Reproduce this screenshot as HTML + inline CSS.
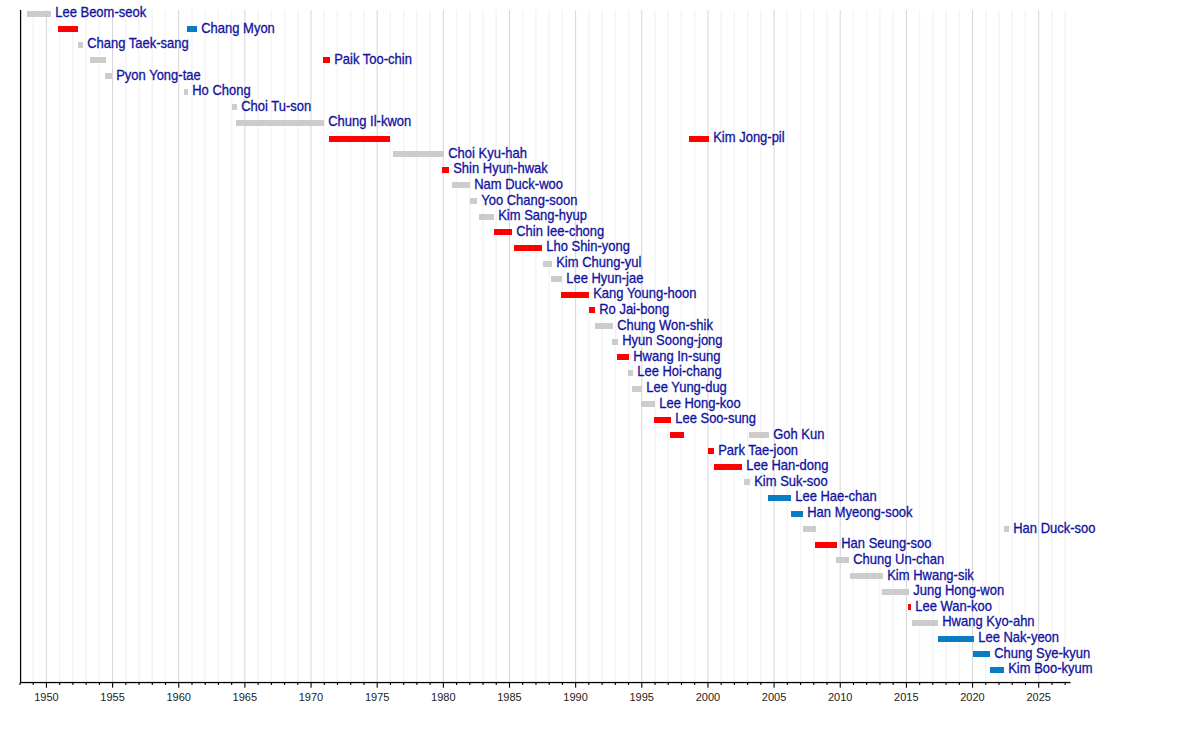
<!DOCTYPE html><html><head><meta charset="utf-8"><style>html,body{margin:0;padding:0;background:#fff;width:1200px;height:732px;overflow:hidden}svg{display:block}text{font-family:"Liberation Sans",sans-serif}</style></head><body>
<svg width="1200" height="732" viewBox="0 0 1200 732">
<rect width="1200" height="732" fill="#fff"/>
<rect x="19.19" y="10" width="1.5" height="672.5" fill="#f4f4f4"/>
<rect x="32.42" y="10" width="1.5" height="672.5" fill="#f4f4f4"/>
<rect x="45.90" y="10" width="1" height="672.5" fill="#d6d6d6"/>
<rect x="58.88" y="10" width="1.5" height="672.5" fill="#f4f4f4"/>
<rect x="72.11" y="10" width="1.5" height="672.5" fill="#f4f4f4"/>
<rect x="85.34" y="10" width="1.5" height="672.5" fill="#f4f4f4"/>
<rect x="98.57" y="10" width="1.5" height="672.5" fill="#f4f4f4"/>
<rect x="112.05" y="10" width="1" height="672.5" fill="#d6d6d6"/>
<rect x="125.03" y="10" width="1.5" height="672.5" fill="#f4f4f4"/>
<rect x="138.26" y="10" width="1.5" height="672.5" fill="#f4f4f4"/>
<rect x="151.49" y="10" width="1.5" height="672.5" fill="#f4f4f4"/>
<rect x="164.72" y="10" width="1.5" height="672.5" fill="#f4f4f4"/>
<rect x="178.20" y="10" width="1" height="672.5" fill="#d6d6d6"/>
<rect x="191.18" y="10" width="1.5" height="672.5" fill="#f4f4f4"/>
<rect x="204.41" y="10" width="1.5" height="672.5" fill="#f4f4f4"/>
<rect x="217.64" y="10" width="1.5" height="672.5" fill="#f4f4f4"/>
<rect x="230.87" y="10" width="1.5" height="672.5" fill="#f4f4f4"/>
<rect x="244.35" y="10" width="1" height="672.5" fill="#d6d6d6"/>
<rect x="257.33" y="10" width="1.5" height="672.5" fill="#f4f4f4"/>
<rect x="270.56" y="10" width="1.5" height="672.5" fill="#f4f4f4"/>
<rect x="283.79" y="10" width="1.5" height="672.5" fill="#f4f4f4"/>
<rect x="297.02" y="10" width="1.5" height="672.5" fill="#f4f4f4"/>
<rect x="310.50" y="10" width="1" height="672.5" fill="#d6d6d6"/>
<rect x="323.48" y="10" width="1.5" height="672.5" fill="#f4f4f4"/>
<rect x="336.71" y="10" width="1.5" height="672.5" fill="#f4f4f4"/>
<rect x="349.94" y="10" width="1.5" height="672.5" fill="#f4f4f4"/>
<rect x="363.17" y="10" width="1.5" height="672.5" fill="#f4f4f4"/>
<rect x="376.65" y="10" width="1" height="672.5" fill="#d6d6d6"/>
<rect x="389.63" y="10" width="1.5" height="672.5" fill="#f4f4f4"/>
<rect x="402.86" y="10" width="1.5" height="672.5" fill="#f4f4f4"/>
<rect x="416.09" y="10" width="1.5" height="672.5" fill="#f4f4f4"/>
<rect x="429.32" y="10" width="1.5" height="672.5" fill="#f4f4f4"/>
<rect x="442.80" y="10" width="1" height="672.5" fill="#d6d6d6"/>
<rect x="455.78" y="10" width="1.5" height="672.5" fill="#f4f4f4"/>
<rect x="469.01" y="10" width="1.5" height="672.5" fill="#f4f4f4"/>
<rect x="482.24" y="10" width="1.5" height="672.5" fill="#f4f4f4"/>
<rect x="495.47" y="10" width="1.5" height="672.5" fill="#f4f4f4"/>
<rect x="508.95" y="10" width="1" height="672.5" fill="#d6d6d6"/>
<rect x="521.93" y="10" width="1.5" height="672.5" fill="#f4f4f4"/>
<rect x="535.16" y="10" width="1.5" height="672.5" fill="#f4f4f4"/>
<rect x="548.39" y="10" width="1.5" height="672.5" fill="#f4f4f4"/>
<rect x="561.62" y="10" width="1.5" height="672.5" fill="#f4f4f4"/>
<rect x="575.10" y="10" width="1" height="672.5" fill="#d6d6d6"/>
<rect x="588.08" y="10" width="1.5" height="672.5" fill="#f4f4f4"/>
<rect x="601.31" y="10" width="1.5" height="672.5" fill="#f4f4f4"/>
<rect x="614.54" y="10" width="1.5" height="672.5" fill="#f4f4f4"/>
<rect x="627.77" y="10" width="1.5" height="672.5" fill="#f4f4f4"/>
<rect x="641.25" y="10" width="1" height="672.5" fill="#d6d6d6"/>
<rect x="654.23" y="10" width="1.5" height="672.5" fill="#f4f4f4"/>
<rect x="667.46" y="10" width="1.5" height="672.5" fill="#f4f4f4"/>
<rect x="680.69" y="10" width="1.5" height="672.5" fill="#f4f4f4"/>
<rect x="693.92" y="10" width="1.5" height="672.5" fill="#f4f4f4"/>
<rect x="707.40" y="10" width="1" height="672.5" fill="#d6d6d6"/>
<rect x="720.38" y="10" width="1.5" height="672.5" fill="#f4f4f4"/>
<rect x="733.61" y="10" width="1.5" height="672.5" fill="#f4f4f4"/>
<rect x="746.84" y="10" width="1.5" height="672.5" fill="#f4f4f4"/>
<rect x="760.07" y="10" width="1.5" height="672.5" fill="#f4f4f4"/>
<rect x="773.55" y="10" width="1" height="672.5" fill="#d6d6d6"/>
<rect x="786.53" y="10" width="1.5" height="672.5" fill="#f4f4f4"/>
<rect x="799.76" y="10" width="1.5" height="672.5" fill="#f4f4f4"/>
<rect x="812.99" y="10" width="1.5" height="672.5" fill="#f4f4f4"/>
<rect x="826.22" y="10" width="1.5" height="672.5" fill="#f4f4f4"/>
<rect x="839.70" y="10" width="1" height="672.5" fill="#d6d6d6"/>
<rect x="852.68" y="10" width="1.5" height="672.5" fill="#f4f4f4"/>
<rect x="865.91" y="10" width="1.5" height="672.5" fill="#f4f4f4"/>
<rect x="879.14" y="10" width="1.5" height="672.5" fill="#f4f4f4"/>
<rect x="892.37" y="10" width="1.5" height="672.5" fill="#f4f4f4"/>
<rect x="905.85" y="10" width="1" height="672.5" fill="#d6d6d6"/>
<rect x="918.83" y="10" width="1.5" height="672.5" fill="#f4f4f4"/>
<rect x="932.06" y="10" width="1.5" height="672.5" fill="#f4f4f4"/>
<rect x="945.29" y="10" width="1.5" height="672.5" fill="#f4f4f4"/>
<rect x="958.52" y="10" width="1.5" height="672.5" fill="#f4f4f4"/>
<rect x="972.00" y="10" width="1" height="672.5" fill="#d6d6d6"/>
<rect x="984.98" y="10" width="1.5" height="672.5" fill="#f4f4f4"/>
<rect x="998.21" y="10" width="1.5" height="672.5" fill="#f4f4f4"/>
<rect x="1011.44" y="10" width="1.5" height="672.5" fill="#f4f4f4"/>
<rect x="1024.67" y="10" width="1.5" height="672.5" fill="#f4f4f4"/>
<rect x="1038.15" y="10" width="1" height="672.5" fill="#d6d6d6"/>
<rect x="1051.13" y="10" width="1.5" height="672.5" fill="#f4f4f4"/>
<rect x="1064.36" y="10" width="1.5" height="672.5" fill="#f4f4f4"/>
<rect x="27" y="11" width="24" height="6" fill="#cccccc"/>
<text transform="translate(55.20,17) scale(0.942,1)" font-size="13.8" fill="#1212a0" stroke="#1212a0" stroke-width="0.3">Lee Beom-seok</text>
<rect x="58" y="26" width="20" height="6" fill="#ff0000"/>
<rect x="187" y="26" width="10" height="6" fill="#0a7cc4"/>
<text transform="translate(201.20,33) scale(0.942,1)" font-size="13.8" fill="#1212a0" stroke="#1212a0" stroke-width="0.3">Chang Myon</text>
<rect x="78" y="42" width="5" height="6" fill="#cccccc"/>
<text transform="translate(87.20,48) scale(0.942,1)" font-size="13.8" fill="#1212a0" stroke="#1212a0" stroke-width="0.3">Chang Taek-sang</text>
<rect x="90" y="57" width="16" height="6" fill="#cccccc"/>
<rect x="323" y="57" width="7" height="6" fill="#ff0000"/>
<text transform="translate(334.20,64) scale(0.942,1)" font-size="13.8" fill="#1212a0" stroke="#1212a0" stroke-width="0.3">Paik Too-chin</text>
<rect x="105" y="73" width="7" height="6" fill="#cccccc"/>
<text transform="translate(116.20,80) scale(0.942,1)" font-size="13.8" fill="#1212a0" stroke="#1212a0" stroke-width="0.3">Pyon Yong-tae</text>
<rect x="184" y="89" width="4" height="6" fill="#cccccc"/>
<text transform="translate(192.20,95) scale(0.942,1)" font-size="13.8" fill="#1212a0" stroke="#1212a0" stroke-width="0.3">Ho Chong</text>
<rect x="232" y="104" width="5" height="6" fill="#cccccc"/>
<text transform="translate(241.20,111) scale(0.942,1)" font-size="13.8" fill="#1212a0" stroke="#1212a0" stroke-width="0.3">Choi Tu-son</text>
<rect x="236" y="120" width="88" height="6" fill="#cccccc"/>
<text transform="translate(328.20,126) scale(0.942,1)" font-size="13.8" fill="#1212a0" stroke="#1212a0" stroke-width="0.3">Chung Il-kwon</text>
<rect x="329" y="136" width="61" height="6" fill="#ff0000"/>
<rect x="689" y="136" width="20" height="6" fill="#ff0000"/>
<text transform="translate(713.20,142) scale(0.942,1)" font-size="13.8" fill="#1212a0" stroke="#1212a0" stroke-width="0.3">Kim Jong-pil</text>
<rect x="393" y="151" width="51" height="6" fill="#cccccc"/>
<text transform="translate(448.20,158) scale(0.942,1)" font-size="13.8" fill="#1212a0" stroke="#1212a0" stroke-width="0.3">Choi Kyu-hah</text>
<rect x="442" y="167" width="7" height="6" fill="#ff0000"/>
<text transform="translate(453.20,173) scale(0.942,1)" font-size="13.8" fill="#1212a0" stroke="#1212a0" stroke-width="0.3">Shin Hyun-hwak</text>
<rect x="452" y="182" width="18" height="6" fill="#cccccc"/>
<text transform="translate(474.20,189) scale(0.942,1)" font-size="13.8" fill="#1212a0" stroke="#1212a0" stroke-width="0.3">Nam Duck-woo</text>
<rect x="470" y="198" width="7" height="6" fill="#cccccc"/>
<text transform="translate(481.20,205) scale(0.942,1)" font-size="13.8" fill="#1212a0" stroke="#1212a0" stroke-width="0.3">Yoo Chang-soon</text>
<rect x="479" y="214" width="15" height="6" fill="#cccccc"/>
<text transform="translate(498.20,220) scale(0.942,1)" font-size="13.8" fill="#1212a0" stroke="#1212a0" stroke-width="0.3">Kim Sang-hyup</text>
<rect x="494" y="229" width="18" height="6" fill="#ff0000"/>
<text transform="translate(516.20,236) scale(0.942,1)" font-size="13.8" fill="#1212a0" stroke="#1212a0" stroke-width="0.3">Chin Iee-chong</text>
<rect x="514" y="245" width="28" height="6" fill="#ff0000"/>
<text transform="translate(546.20,251) scale(0.942,1)" font-size="13.8" fill="#1212a0" stroke="#1212a0" stroke-width="0.3">Lho Shin-yong</text>
<rect x="543" y="261" width="9" height="6" fill="#cccccc"/>
<text transform="translate(556.20,267) scale(0.942,1)" font-size="13.8" fill="#1212a0" stroke="#1212a0" stroke-width="0.3">Kim Chung-yul</text>
<rect x="551" y="276" width="11" height="6" fill="#cccccc"/>
<text transform="translate(566.20,283) scale(0.942,1)" font-size="13.8" fill="#1212a0" stroke="#1212a0" stroke-width="0.3">Lee Hyun-jae</text>
<rect x="561" y="292" width="28" height="6" fill="#ff0000"/>
<text transform="translate(593.20,298) scale(0.942,1)" font-size="13.8" fill="#1212a0" stroke="#1212a0" stroke-width="0.3">Kang Young-hoon</text>
<rect x="589" y="307" width="6" height="6" fill="#ff0000"/>
<text transform="translate(599.20,314) scale(0.942,1)" font-size="13.8" fill="#1212a0" stroke="#1212a0" stroke-width="0.3">Ro Jai-bong</text>
<rect x="595" y="323" width="18" height="6" fill="#cccccc"/>
<text transform="translate(617.20,330) scale(0.942,1)" font-size="13.8" fill="#1212a0" stroke="#1212a0" stroke-width="0.3">Chung Won-shik</text>
<rect x="612" y="339" width="6" height="6" fill="#cccccc"/>
<text transform="translate(622.20,345) scale(0.942,1)" font-size="13.8" fill="#1212a0" stroke="#1212a0" stroke-width="0.3">Hyun Soong-jong</text>
<rect x="617" y="354" width="12" height="6" fill="#ff0000"/>
<text transform="translate(633.20,361) scale(0.942,1)" font-size="13.8" fill="#1212a0" stroke="#1212a0" stroke-width="0.3">Hwang In-sung</text>
<rect x="628" y="370" width="5" height="6" fill="#cccccc"/>
<text transform="translate(637.20,376) scale(0.942,1)" font-size="13.8" fill="#1212a0" stroke="#1212a0" stroke-width="0.3">Lee Hoi-chang</text>
<rect x="632" y="386" width="10" height="6" fill="#cccccc"/>
<text transform="translate(646.20,392) scale(0.942,1)" font-size="13.8" fill="#1212a0" stroke="#1212a0" stroke-width="0.3">Lee Yung-dug</text>
<rect x="641" y="401" width="14" height="6" fill="#cccccc"/>
<text transform="translate(659.20,408) scale(0.942,1)" font-size="13.8" fill="#1212a0" stroke="#1212a0" stroke-width="0.3">Lee Hong-koo</text>
<rect x="654" y="417" width="17" height="6" fill="#ff0000"/>
<text transform="translate(675.20,423) scale(0.942,1)" font-size="13.8" fill="#1212a0" stroke="#1212a0" stroke-width="0.3">Lee Soo-sung</text>
<rect x="670" y="432" width="14" height="6" fill="#ff0000"/>
<rect x="749" y="432" width="20" height="6" fill="#cccccc"/>
<text transform="translate(773.20,439) scale(0.942,1)" font-size="13.8" fill="#1212a0" stroke="#1212a0" stroke-width="0.3">Goh Kun</text>
<rect x="708" y="448" width="6" height="6" fill="#ff0000"/>
<text transform="translate(718.20,455) scale(0.942,1)" font-size="13.8" fill="#1212a0" stroke="#1212a0" stroke-width="0.3">Park Tae-joon</text>
<rect x="714" y="464" width="28" height="6" fill="#ff0000"/>
<text transform="translate(746.20,470) scale(0.942,1)" font-size="13.8" fill="#1212a0" stroke="#1212a0" stroke-width="0.3">Lee Han-dong</text>
<rect x="744" y="479" width="6" height="6" fill="#cccccc"/>
<text transform="translate(754.20,486) scale(0.942,1)" font-size="13.8" fill="#1212a0" stroke="#1212a0" stroke-width="0.3">Kim Suk-soo</text>
<rect x="768" y="495" width="23" height="6" fill="#0a7cc4"/>
<text transform="translate(795.20,501) scale(0.942,1)" font-size="13.8" fill="#1212a0" stroke="#1212a0" stroke-width="0.3">Lee Hae-chan</text>
<rect x="791" y="511" width="12" height="6" fill="#0a7cc4"/>
<text transform="translate(807.20,517) scale(0.942,1)" font-size="13.8" fill="#1212a0" stroke="#1212a0" stroke-width="0.3">Han Myeong-sook</text>
<rect x="803" y="526" width="13" height="6" fill="#cccccc"/>
<rect x="1004" y="526" width="5" height="6" fill="#cccccc"/>
<text transform="translate(1013.20,533) scale(0.942,1)" font-size="13.8" fill="#1212a0" stroke="#1212a0" stroke-width="0.3">Han Duck-soo</text>
<rect x="815" y="542" width="22" height="6" fill="#ff0000"/>
<text transform="translate(841.20,548) scale(0.942,1)" font-size="13.8" fill="#1212a0" stroke="#1212a0" stroke-width="0.3">Han Seung-soo</text>
<rect x="836" y="557" width="13" height="6" fill="#cccccc"/>
<text transform="translate(853.20,564) scale(0.942,1)" font-size="13.8" fill="#1212a0" stroke="#1212a0" stroke-width="0.3">Chung Un-chan</text>
<rect x="850" y="573" width="33" height="6" fill="#cccccc"/>
<text transform="translate(887.20,580) scale(0.942,1)" font-size="13.8" fill="#1212a0" stroke="#1212a0" stroke-width="0.3">Kim Hwang-sik</text>
<rect x="882" y="589" width="27" height="6" fill="#cccccc"/>
<text transform="translate(913.20,595) scale(0.942,1)" font-size="13.8" fill="#1212a0" stroke="#1212a0" stroke-width="0.3">Jung Hong-won</text>
<rect x="908" y="604" width="3" height="6" fill="#ff0000"/>
<text transform="translate(915.20,611) scale(0.942,1)" font-size="13.8" fill="#1212a0" stroke="#1212a0" stroke-width="0.3">Lee Wan-koo</text>
<rect x="912" y="620" width="26" height="6" fill="#cccccc"/>
<text transform="translate(942.20,626) scale(0.942,1)" font-size="13.8" fill="#1212a0" stroke="#1212a0" stroke-width="0.3">Hwang Kyo-ahn</text>
<rect x="938" y="636" width="36" height="6" fill="#0a7cc4"/>
<text transform="translate(978.20,642) scale(0.942,1)" font-size="13.8" fill="#1212a0" stroke="#1212a0" stroke-width="0.3">Lee Nak-yeon</text>
<rect x="973" y="651" width="17" height="6" fill="#0a7cc4"/>
<text transform="translate(994.20,658) scale(0.942,1)" font-size="13.8" fill="#1212a0" stroke="#1212a0" stroke-width="0.3">Chung Sye-kyun</text>
<rect x="990" y="667" width="14" height="6" fill="#0a7cc4"/>
<text transform="translate(1008.20,673) scale(0.942,1)" font-size="13.8" fill="#1212a0" stroke="#1212a0" stroke-width="0.3">Kim Boo-kyum</text>
<rect x="20.0" y="10" width="1.2" height="673.1" fill="#000"/>
<rect x="20.0" y="681.9" width="1050.5" height="1.3" fill="#000"/>
<rect x="19.44" y="682.5" width="1.1" height="2.5" fill="#000"/>
<rect x="32.67" y="682.5" width="1.1" height="2.5" fill="#000"/>
<rect x="45.90" y="682.5" width="1.1" height="5.2" fill="#000"/>
<text x="46.40" y="701" font-size="11" fill="#222" text-anchor="middle">1950</text>
<rect x="59.13" y="682.5" width="1.1" height="2.5" fill="#000"/>
<rect x="72.36" y="682.5" width="1.1" height="2.5" fill="#000"/>
<rect x="85.59" y="682.5" width="1.1" height="2.5" fill="#000"/>
<rect x="98.82" y="682.5" width="1.1" height="2.5" fill="#000"/>
<rect x="112.05" y="682.5" width="1.1" height="5.2" fill="#000"/>
<text x="112.55" y="701" font-size="11" fill="#222" text-anchor="middle">1955</text>
<rect x="125.28" y="682.5" width="1.1" height="2.5" fill="#000"/>
<rect x="138.51" y="682.5" width="1.1" height="2.5" fill="#000"/>
<rect x="151.74" y="682.5" width="1.1" height="2.5" fill="#000"/>
<rect x="164.97" y="682.5" width="1.1" height="2.5" fill="#000"/>
<rect x="178.20" y="682.5" width="1.1" height="5.2" fill="#000"/>
<text x="178.70" y="701" font-size="11" fill="#222" text-anchor="middle">1960</text>
<rect x="191.43" y="682.5" width="1.1" height="2.5" fill="#000"/>
<rect x="204.66" y="682.5" width="1.1" height="2.5" fill="#000"/>
<rect x="217.89" y="682.5" width="1.1" height="2.5" fill="#000"/>
<rect x="231.12" y="682.5" width="1.1" height="2.5" fill="#000"/>
<rect x="244.35" y="682.5" width="1.1" height="5.2" fill="#000"/>
<text x="244.85" y="701" font-size="11" fill="#222" text-anchor="middle">1965</text>
<rect x="257.58" y="682.5" width="1.1" height="2.5" fill="#000"/>
<rect x="270.81" y="682.5" width="1.1" height="2.5" fill="#000"/>
<rect x="284.04" y="682.5" width="1.1" height="2.5" fill="#000"/>
<rect x="297.27" y="682.5" width="1.1" height="2.5" fill="#000"/>
<rect x="310.50" y="682.5" width="1.1" height="5.2" fill="#000"/>
<text x="311.00" y="701" font-size="11" fill="#222" text-anchor="middle">1970</text>
<rect x="323.73" y="682.5" width="1.1" height="2.5" fill="#000"/>
<rect x="336.96" y="682.5" width="1.1" height="2.5" fill="#000"/>
<rect x="350.19" y="682.5" width="1.1" height="2.5" fill="#000"/>
<rect x="363.42" y="682.5" width="1.1" height="2.5" fill="#000"/>
<rect x="376.65" y="682.5" width="1.1" height="5.2" fill="#000"/>
<text x="377.15" y="701" font-size="11" fill="#222" text-anchor="middle">1975</text>
<rect x="389.88" y="682.5" width="1.1" height="2.5" fill="#000"/>
<rect x="403.11" y="682.5" width="1.1" height="2.5" fill="#000"/>
<rect x="416.34" y="682.5" width="1.1" height="2.5" fill="#000"/>
<rect x="429.57" y="682.5" width="1.1" height="2.5" fill="#000"/>
<rect x="442.80" y="682.5" width="1.1" height="5.2" fill="#000"/>
<text x="443.30" y="701" font-size="11" fill="#222" text-anchor="middle">1980</text>
<rect x="456.03" y="682.5" width="1.1" height="2.5" fill="#000"/>
<rect x="469.26" y="682.5" width="1.1" height="2.5" fill="#000"/>
<rect x="482.49" y="682.5" width="1.1" height="2.5" fill="#000"/>
<rect x="495.72" y="682.5" width="1.1" height="2.5" fill="#000"/>
<rect x="508.95" y="682.5" width="1.1" height="5.2" fill="#000"/>
<text x="509.45" y="701" font-size="11" fill="#222" text-anchor="middle">1985</text>
<rect x="522.18" y="682.5" width="1.1" height="2.5" fill="#000"/>
<rect x="535.41" y="682.5" width="1.1" height="2.5" fill="#000"/>
<rect x="548.64" y="682.5" width="1.1" height="2.5" fill="#000"/>
<rect x="561.87" y="682.5" width="1.1" height="2.5" fill="#000"/>
<rect x="575.10" y="682.5" width="1.1" height="5.2" fill="#000"/>
<text x="575.60" y="701" font-size="11" fill="#222" text-anchor="middle">1990</text>
<rect x="588.33" y="682.5" width="1.1" height="2.5" fill="#000"/>
<rect x="601.56" y="682.5" width="1.1" height="2.5" fill="#000"/>
<rect x="614.79" y="682.5" width="1.1" height="2.5" fill="#000"/>
<rect x="628.02" y="682.5" width="1.1" height="2.5" fill="#000"/>
<rect x="641.25" y="682.5" width="1.1" height="5.2" fill="#000"/>
<text x="641.75" y="701" font-size="11" fill="#222" text-anchor="middle">1995</text>
<rect x="654.48" y="682.5" width="1.1" height="2.5" fill="#000"/>
<rect x="667.71" y="682.5" width="1.1" height="2.5" fill="#000"/>
<rect x="680.94" y="682.5" width="1.1" height="2.5" fill="#000"/>
<rect x="694.17" y="682.5" width="1.1" height="2.5" fill="#000"/>
<rect x="707.40" y="682.5" width="1.1" height="5.2" fill="#000"/>
<text x="707.90" y="701" font-size="11" fill="#222" text-anchor="middle">2000</text>
<rect x="720.63" y="682.5" width="1.1" height="2.5" fill="#000"/>
<rect x="733.86" y="682.5" width="1.1" height="2.5" fill="#000"/>
<rect x="747.09" y="682.5" width="1.1" height="2.5" fill="#000"/>
<rect x="760.32" y="682.5" width="1.1" height="2.5" fill="#000"/>
<rect x="773.55" y="682.5" width="1.1" height="5.2" fill="#000"/>
<text x="774.05" y="701" font-size="11" fill="#222" text-anchor="middle">2005</text>
<rect x="786.78" y="682.5" width="1.1" height="2.5" fill="#000"/>
<rect x="800.01" y="682.5" width="1.1" height="2.5" fill="#000"/>
<rect x="813.24" y="682.5" width="1.1" height="2.5" fill="#000"/>
<rect x="826.47" y="682.5" width="1.1" height="2.5" fill="#000"/>
<rect x="839.70" y="682.5" width="1.1" height="5.2" fill="#000"/>
<text x="840.20" y="701" font-size="11" fill="#222" text-anchor="middle">2010</text>
<rect x="852.93" y="682.5" width="1.1" height="2.5" fill="#000"/>
<rect x="866.16" y="682.5" width="1.1" height="2.5" fill="#000"/>
<rect x="879.39" y="682.5" width="1.1" height="2.5" fill="#000"/>
<rect x="892.62" y="682.5" width="1.1" height="2.5" fill="#000"/>
<rect x="905.85" y="682.5" width="1.1" height="5.2" fill="#000"/>
<text x="906.35" y="701" font-size="11" fill="#222" text-anchor="middle">2015</text>
<rect x="919.08" y="682.5" width="1.1" height="2.5" fill="#000"/>
<rect x="932.31" y="682.5" width="1.1" height="2.5" fill="#000"/>
<rect x="945.54" y="682.5" width="1.1" height="2.5" fill="#000"/>
<rect x="958.77" y="682.5" width="1.1" height="2.5" fill="#000"/>
<rect x="972.00" y="682.5" width="1.1" height="5.2" fill="#000"/>
<text x="972.50" y="701" font-size="11" fill="#222" text-anchor="middle">2020</text>
<rect x="985.23" y="682.5" width="1.1" height="2.5" fill="#000"/>
<rect x="998.46" y="682.5" width="1.1" height="2.5" fill="#000"/>
<rect x="1011.69" y="682.5" width="1.1" height="2.5" fill="#000"/>
<rect x="1024.92" y="682.5" width="1.1" height="2.5" fill="#000"/>
<rect x="1038.15" y="682.5" width="1.1" height="5.2" fill="#000"/>
<text x="1038.65" y="701" font-size="11" fill="#222" text-anchor="middle">2025</text>
<rect x="1051.38" y="682.5" width="1.1" height="2.5" fill="#000"/>
<rect x="1064.61" y="682.5" width="1.1" height="2.5" fill="#000"/>
</svg></body></html>
